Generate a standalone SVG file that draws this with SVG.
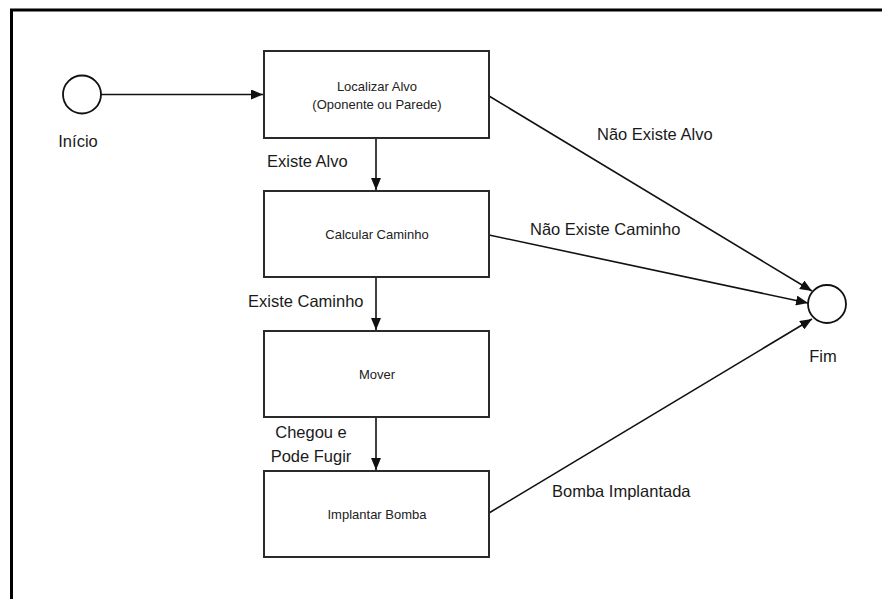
<svg xmlns="http://www.w3.org/2000/svg" width="882" height="599" viewBox="0 0 882 599">
  <style>
    .frame { fill: none; stroke: #000; stroke-width: 3; }
    .box { fill: #fff; stroke: #2a2a2a; stroke-width: 2; }
    .state { fill: #fff; stroke: #111; stroke-width: 1.8; }
    .edge { fill: none; stroke: #111; stroke-width: 1.6; marker-end: url(#arrow); }
    .inner { font-family: "Liberation Sans", Arial, sans-serif; font-size: 13px; fill: #222; text-anchor: middle; }
    .label { font-family: "Liberation Sans", Arial, sans-serif; font-size: 16.5px; fill: #1a1a1a; }
  </style>
  <defs>
    <marker id="arrow" viewBox="0 0 12 10" refX="12" refY="5" markerWidth="12" markerHeight="10" markerUnits="userSpaceOnUse" orient="auto">
      <path d="M0,0 L12,5 L0,10 Z" fill="#111"/>
    </marker>
  </defs>

  <rect width="882" height="599" fill="#fff"/>
  <!-- outer frame (right and bottom edges lie outside the canvas) -->
  <rect class="frame" x="11.5" y="10" width="880" height="600"/>

  <g id="connectors">
    <line class="edge" x1="101" y1="94.5" x2="263" y2="94.5"/>
    <line class="edge" x1="376" y1="138" x2="376" y2="190"/>
    <line class="edge" x1="376" y1="277" x2="376" y2="330"/>
    <line class="edge" x1="376" y1="417" x2="376" y2="470"/>
    <line class="edge" x1="489" y1="96" x2="812" y2="291"/>
    <line class="edge" x1="489" y1="235" x2="808" y2="303"/>
    <line class="edge" x1="489" y1="513" x2="812" y2="319"/>
    <text class="label" x="267" y="167">Existe Alvo</text>
    <text class="label" x="248" y="307">Existe Caminho</text>
    <text class="label" x="311" y="438" text-anchor="middle">Chegou e</text>
    <text class="label" x="311" y="462" text-anchor="middle">Pode Fugir</text>
    <text class="label" x="597" y="140">Não Existe Alvo</text>
    <text class="label" x="530" y="235">Não Existe Caminho</text>
    <text class="label" x="552" y="497">Bomba Implantada</text>
  </g>

  <g id="inicio">
    <circle class="state" cx="82" cy="94.5" r="19"/>
    <text class="label" x="78" y="147" text-anchor="middle">Início</text>
  </g>

  <g id="localizar-alvo">
    <rect class="box" x="264" y="51" width="225" height="87"/>
    <text class="inner" x="377" y="91">Localizar Alvo</text>
    <text class="inner" x="377" y="109">(Oponente ou Parede)</text>
  </g>

  <g id="calcular-caminho">
    <rect class="box" x="264" y="191" width="225" height="86"/>
    <text class="inner" x="377" y="239">Calcular Caminho</text>
  </g>

  <g id="mover">
    <rect class="box" x="264" y="331" width="225" height="86"/>
    <text class="inner" x="377" y="379">Mover</text>
  </g>

  <g id="implantar-bomba">
    <rect class="box" x="264" y="471" width="225" height="86"/>
    <text class="inner" x="377" y="519">Implantar Bomba</text>
  </g>

  <g id="fim">
    <circle class="state" cx="827" cy="304" r="19"/>
    <text class="label" x="823" y="362" text-anchor="middle">Fim</text>
  </g>
</svg>
